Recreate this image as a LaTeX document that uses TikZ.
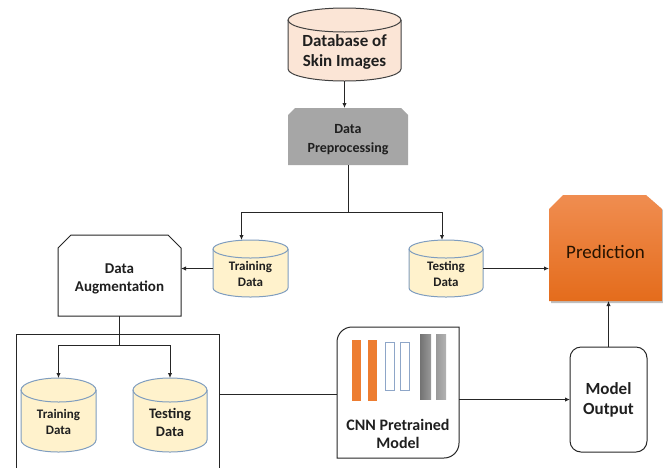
\documentclass[tikz,border=0pt]{standalone}
\usepackage{fontspec}
\setmainfont{Carlito}
\usetikzlibrary{arrows.meta}
\definecolor{cylfill}{HTML}{FFF2CC}
\definecolor{cylline}{HTML}{7F9DBF}
\definecolor{dbfill}{HTML}{FBE5D6}
\definecolor{dbline}{HTML}{404040}
\definecolor{prepgray}{HTML}{A6A6A6}
\definecolor{orangeA}{HTML}{F08D50}
\definecolor{orangeB}{HTML}{E46C1C}
\definecolor{barorange}{HTML}{ED7D31}
\definecolor{barblue}{HTML}{8EA6C8}
\definecolor{linecol}{HTML}{262626}
\tikzset{
  anchorbox/.style={inner sep=0pt, outer sep=0pt},
  conn/.style={draw=linecol, line width=1pt},
  arr/.style={conn, -{Latex[length=5pt,width=4.5pt]}},
  cylA/.style={fill=cylfill, draw=cylline, line width=1pt},
  cylDB/.style={fill=dbfill, draw=dbline, line width=1pt},
  boxline/.style={draw=linecol, line width=1pt},
}
% name, cx, ytop, w, h, ry, style, font, text
\newcommand{\drum}[9]{%
  \node[anchorbox, minimum width=#4pt, minimum height=#5pt] (#1) at (#2,-#3-#5/2) {};
  \path[#7, draw=none] ([yshift=-#6pt]#1.north west) -- ([yshift=#6pt]#1.south west)
     arc[start angle=180, end angle=360, x radius=#4pt/2, y radius=#6pt]
     -- ([yshift=-#6pt]#1.north east)
     arc[start angle=0, end angle=180, x radius=#4pt/2, y radius=#6pt] -- cycle;
  \path[#7, fill=none] ([yshift=-#6pt]#1.north) ellipse[x radius=#4pt/2, y radius=#6pt];
  \path[#7, fill=none] ([yshift=-#6pt]#1.north west) -- ([yshift=#6pt]#1.south west)
     arc[start angle=180, end angle=360, x radius=#4pt/2, y radius=#6pt]
     -- ([yshift=-#6pt]#1.north east);
  \node[align=center, font=#8, inner sep=0pt, text=black!88] at ([yshift=-#6pt/2-1pt]#1.center) {#9};
}
\begin{document}
\begin{tikzpicture}[x=1pt, y=1pt]
\useasboundingbox (0,0) rectangle (663,-467);
\clip (0,0) rectangle (663,-467);

% Database
\drum{db}{344.5}{8}{113}{73}{12}{cylDB}{\bfseries\fontsize{17}{20}\selectfont}{Database of\\Skin Images}

% Data Preprocessing
\node[anchorbox, minimum width=120pt, minimum height=57pt] (prep) at (348,-136.5) {};
\fill[prepgray] (288,-165) -- (288,-115) -- (295,-108) -- (401,-108) -- (408,-115) -- (408,-165) -- cycle;
\node[align=center, font=\bfseries\fontsize{14}{19}\selectfont, text=black!88] at ([yshift=-3pt]prep.center) {Data\\Preprocessing};

% middle cylinders
\drum{train1}{250.5}{240}{75}{57}{9}{cylA}{\bfseries\fontsize{13}{16}\selectfont}{Training\\Data}
\drum{test1}{446}{240}{74}{57}{9}{cylA}{\bfseries\fontsize{13}{16}\selectfont}{Testing\\Data}

% Data Augmentation
\node[anchorbox, minimum width=123pt, minimum height=81pt] (aug) at (119.5,-275.5) {};
\path[boxline, fill=white] (58,-316) -- (58,-248) -- (71,-235) -- (168,-235) -- (181,-248) -- (181,-316) -- cycle;
\node[align=center, font=\bfseries\fontsize{15}{18}\selectfont, text=black!88] at ([yshift=-3.5pt]aug.center) {Data\\Augmentation};

% Prediction
\node[anchorbox, minimum width=113pt, minimum height=106pt] (pred) at (605.5,-248) {};
\fill[black!25] (551,-303) -- (551,-211) -- (565,-197) -- (648,-197) -- (664,-211) -- (664,-303) -- cycle;
\shade[top color=orangeA, bottom color=orangeB] (549,-301) -- (549,-209) -- (563,-195) -- (646,-195) -- (662,-209) -- (662,-301) -- cycle;
\node[font=\fontsize{19}{22}\selectfont, text=black!85!orange] at ([yshift=-4pt]pred.center) {Prediction};

% big box
\node[boxline, anchorbox, minimum width=203pt, minimum height=146pt] (bigbox) at (117.5,-407) {};
\drum{train2}{58.5}{378}{75}{74}{12}{cylA}{\bfseries\fontsize{13}{15.5}\selectfont}{Training\\Data}
\drum{test2}{170}{378}{74}{74}{12}{cylA}{\bfseries\fontsize{14.5}{18}\selectfont}{Testing\\Data}

% CNN box
\node[anchorbox, minimum width=122pt, minimum height=131pt] (cnn) at (398,-392.5) {};
\path[boxline, fill=white] (352,-327) -- (459,-327) -- (459,-443) arc[start angle=0, end angle=-90, radius=15pt]
   -- (337,-458) -- (337,-342) arc[start angle=180, end angle=90, radius=15pt] -- cycle;
\fill[barorange] (352,-340) rectangle (361,-401);
\fill[barorange] (368,-340) rectangle (377,-401);
\draw[barblue, line width=1pt] (385,-342) rectangle (394,-390);
\draw[barblue, line width=1pt] (400,-342) rectangle (409,-390);
\shade[left color=black!55, right color=black!40] (420,-334) rectangle (431,-399);
\shade[left color=black!40, right color=black!30] (436,-334) rectangle (446,-399);
\node[align=center, font=\bfseries\fontsize{16}{18.5}\selectfont, text=black!88] at (398,-434) {CNN Pretrained\\Model};

% Model Output
\node[boxline, anchorbox, rounded corners=11pt, minimum width=77pt, minimum height=105pt, align=center, font=\bfseries\fontsize{17}{20}\selectfont, text=black!88] (mout) at (608.5,-399.5) {Model\\Output};

% connectors
\draw[arr] (db.south) -- (db.south |- prep.north);
\draw[conn] (prep.south) -- ++(0,-47) coordinate (fork);
\draw[arr] (fork) -| ([xshift=-9pt]train1.north);
\draw[arr] (fork) -| ([xshift=-4pt]test1.north);
\draw[arr] (train1.west) -- (train1.west -| aug.east);
\draw[arr] (test1.east) -- (test1.east -| pred.west);
\draw[conn] (aug.south) -- ++(0,-29) coordinate (fork2);
\draw[arr] (fork2) -| (train2.north);
\draw[arr] (fork2) -| (test2.north);
\draw[conn] ([yshift=-2pt]cnn.west -| bigbox.east) -- ([yshift=-2pt]cnn.west);
\draw[arr] (cnn.east |- mout.west) -- (mout.west);
\draw[arr] (mout.north) -- (mout.north |- pred.south);
\end{tikzpicture}
\end{document}
